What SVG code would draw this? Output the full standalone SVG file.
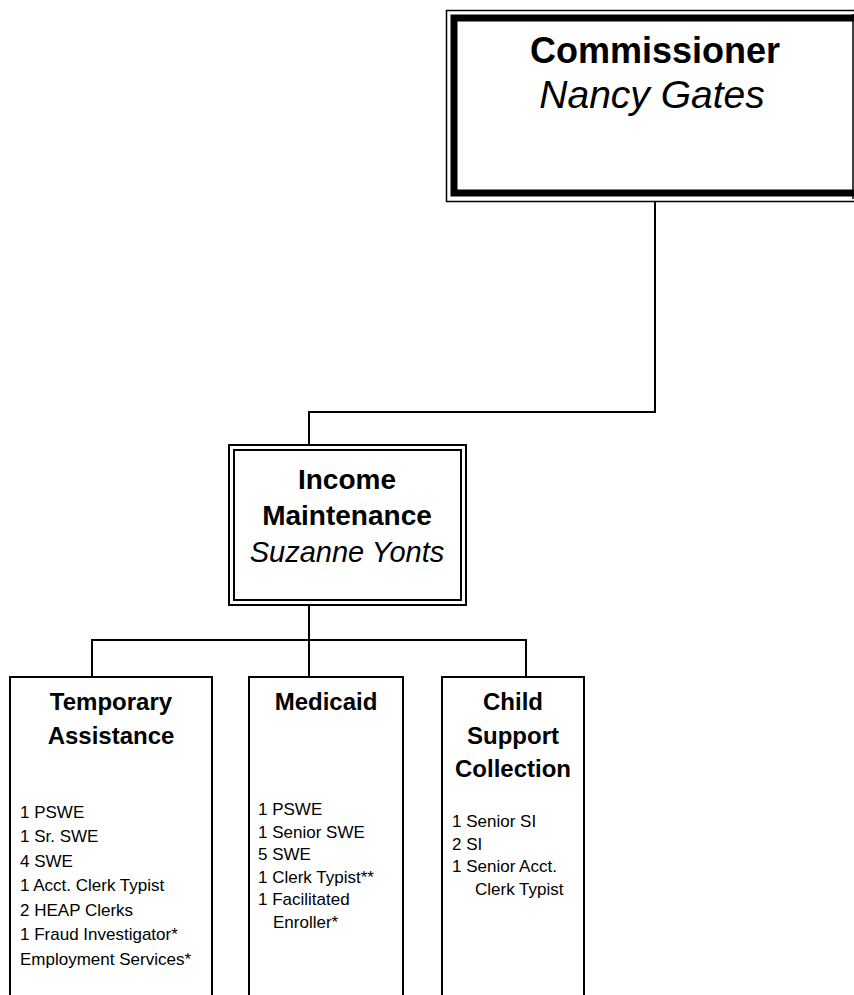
<svg xmlns="http://www.w3.org/2000/svg" width="854" height="995" viewBox="0 0 854 995">
<style>
  .ln{fill:none;stroke:#000;stroke-width:2}
  .box{fill:#fff;stroke:#000;stroke-width:2}
  text{font-family:"Liberation Sans",Arial,sans-serif;fill:#000}
  .big{font-size:36px;font-weight:bold;text-anchor:middle}
  .bigi{font-size:39px;font-style:italic;text-anchor:middle}
  .mid{font-size:28px;font-weight:bold;text-anchor:middle}
  .midi{font-size:29px;font-style:italic;text-anchor:middle}
  .ttl{font-size:24px;font-weight:bold;text-anchor:middle}
  .lst{font-size:17px}
</style>
<rect width="854" height="995" fill="#fff"/>
<g id="connectors">
  <polyline class="ln" points="655,201 655,412 309,412 309,445"/>
  <line class="ln" x1="309" y1="605" x2="309" y2="677"/>
  <polyline class="ln" points="92,677 92,640 526,640 526,677"/>
</g>
<g id="commissioner">
  <rect x="446.5" y="10.5" width="420" height="191" fill="#fff" stroke="#000" stroke-width="1.5"/>
  <rect x="454" y="18" width="420" height="175" fill="none" stroke="#000" stroke-width="7"/>
  <line x1="853" y1="14" x2="853" y2="199" stroke="#000" stroke-width="1.5"/>
  <text class="big" x="655" y="63">Commissioner</text>
  <text class="bigi" x="652" y="108">Nancy Gates</text>
</g>
<g id="income">
  <rect x="229" y="445" width="237" height="160" class="box"/>
  <rect x="234" y="450" width="227" height="150" fill="none" stroke="#000" stroke-width="2"/>
  <text class="mid" x="347" y="489">Income</text>
  <text class="mid" x="347" y="525">Maintenance</text>
  <text class="midi" x="347" y="562">Suzanne Yonts</text>
</g>
<g id="temporary">
  <rect x="10" y="677" width="202" height="330" class="box"/>
  <text class="ttl" x="111" y="710">Temporary</text>
  <text class="ttl" x="111" y="744">Assistance</text>
  <text class="lst" x="20" y="818">1 PSWE</text>
  <text class="lst" x="20" y="842">1 Sr. SWE</text>
  <text class="lst" x="20" y="867">4 SWE</text>
  <text class="lst" x="20" y="891">1 Acct. Clerk Typist</text>
  <text class="lst" x="20" y="916">2 HEAP Clerks</text>
  <text class="lst" x="20" y="940">1 Fraud Investigator*</text>
  <text class="lst" x="20" y="965">Employment Services*</text>
</g>
<g id="medicaid">
  <rect x="249" y="677" width="154" height="330" class="box"/>
  <text class="ttl" x="326" y="710">Medicaid</text>
  <text class="lst" x="258" y="815">1 PSWE</text>
  <text class="lst" x="258" y="838">1 Senior SWE</text>
  <text class="lst" x="258" y="860">5 SWE</text>
  <text class="lst" x="258" y="883">1 Clerk Typist**</text>
  <text class="lst" x="258" y="905">1 Facilitated</text>
  <text class="lst" x="273" y="928">Enroller*</text>
</g>
<g id="childsupport">
  <rect x="442" y="677" width="142" height="330" class="box"/>
  <text class="ttl" x="513" y="710">Child</text>
  <text class="ttl" x="513" y="744">Support</text>
  <text class="ttl" x="513" y="777">Collection</text>
  <text class="lst" x="452" y="827">1 Senior SI</text>
  <text class="lst" x="452" y="850">2 SI</text>
  <text class="lst" x="452" y="872">1 Senior Acct.</text>
  <text class="lst" x="475" y="895">Clerk Typist</text>
</g>
</svg>
